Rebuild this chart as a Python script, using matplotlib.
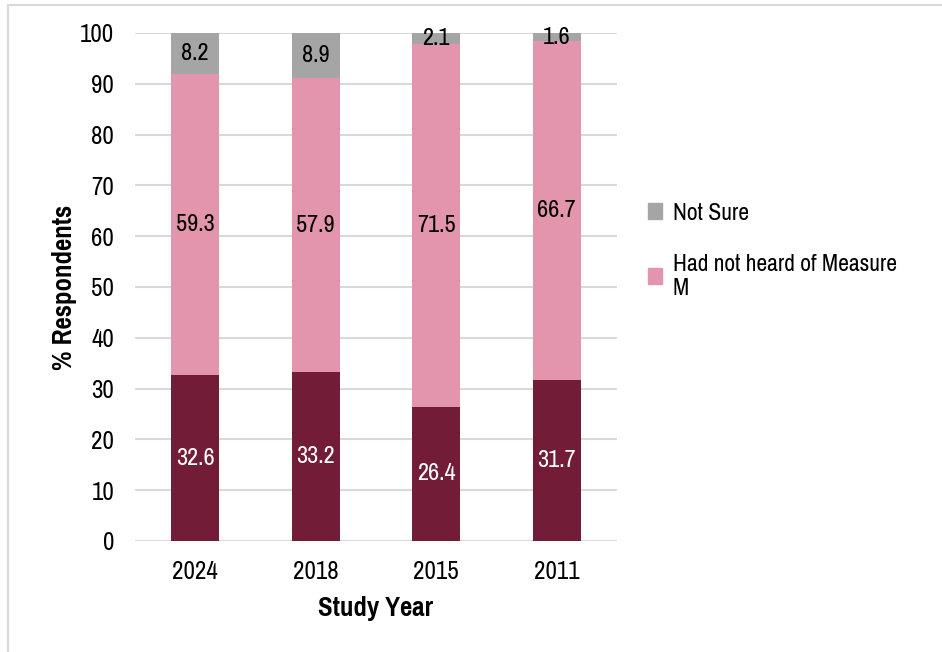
import matplotlib.pyplot as plt
from matplotlib.patches import Rectangle, Patch

plt.rcParams['font.family'] = ['Pragati Narrow', 'Liberation Sans', 'DejaVu Sans']

years = ['2024', '2018', '2015', '2011']
had_heard = [32.6, 33.2, 26.4, 31.7]
not_heard = [59.3, 57.9, 71.5, 66.7]
not_sure = [8.2, 8.9, 2.1, 1.6]

c_heard = '#721C37'
c_not_heard = '#E495AE'
c_not_sure = '#A5A5A5'

fig = plt.figure(figsize=(9.42, 6.52), dpi=100)
ax = fig.add_axes([135 / 942, 1 - 541 / 652, 482 / 942, 508 / 652])

x = range(len(years))
w = 0.4
b1 = ax.bar(x, had_heard, w, color=c_heard, zorder=3)
b2 = ax.bar(x, not_heard, w, bottom=had_heard, color=c_not_heard, zorder=3)
bottom3 = [a + b for a, b in zip(had_heard, not_heard)]
b3 = ax.bar(x, not_sure, w, bottom=bottom3, color=c_not_sure, zorder=3)

ax.bar_label(b1, labels=[f'{v:.1f}' for v in had_heard], label_type='center',
             color='white', fontsize=19)
ax.bar_label(b2, labels=[f'{v:.1f}' for v in not_heard], label_type='center',
             color='black', fontsize=19)
ax.bar_label(b3, labels=[f'{v:.1f}' for v in not_sure], label_type='center',
             color='black', fontsize=19)

ax.set_xlim(-0.5, 3.5)
ax.set_ylim(0, 100)
ax.set_yticks(range(0, 101, 10))
ax.set_xticks(list(x))
ax.set_xticklabels(years)
ax.tick_params(length=0, labelsize=19.5, colors='black')
ax.tick_params(axis='y', pad=15)
ax.tick_params(axis='x', pad=14)
ax.yaxis.grid(True, color='#D9D9D9', linewidth=1.5, zorder=0)
for s in ax.spines.values():
    s.set_visible(False)

ax.set_xlabel('Study Year', fontsize=21, fontweight='bold', labelpad=9)
ax.set_ylabel('% Respondents', fontsize=21, fontweight='bold', labelpad=2)

handles = [Patch(color=c_not_sure), Patch(color=c_not_heard)]
fig.legend(handles, ['Not Sure', 'Had not heard of Measure\nM'],
           loc='upper left', bbox_to_anchor=(625 / 942, 1 - 180 / 652),
           frameon=False, fontsize=18.5, handlelength=0.55, handleheight=0.55,
           handletextpad=0.4, labelspacing=1.15)

# light frame round the chart
fig.patches.append(Rectangle((8 / 942, -0.05), 1.0, 1 - 5 / 652 + 0.05,
                             transform=fig.transFigure, fill=False,
                             edgecolor='#D9D9D9', linewidth=1.5))

fig.savefig('out.png', dpi=100)
